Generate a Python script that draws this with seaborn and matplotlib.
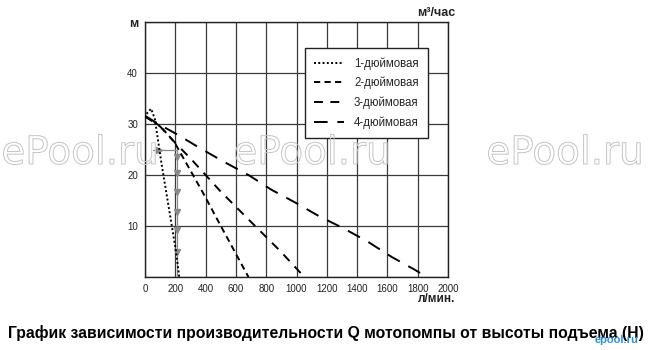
import matplotlib
matplotlib.use("Agg")
import matplotlib.pyplot as plt
import matplotlib.patheffects as pe
import seaborn as sns
import pandas as pd

# ---- data ----
series_names = ["1-дюймовая", "2-дюймовая", "3-дюймовая", "4-дюймовая"]
q1 = [10, 40, 65, 107, 161, 204, 226]
h1 = [32.0, 33.0, 31.0, 22.6, 12.9, 5.2, 0.0]
q2 = [0, 100, 193, 383, 495, 683]
h2 = [31.5, 29.6, 26.5, 16.5, 10.3, 0.0]
q3 = [0, 100, 193, 302, 498, 693, 889, 1052]
h3 = [31.5, 29.5, 26.5, 23.2, 16.8, 11.0, 5.2, 0.0]
q4 = [0, 106, 204, 367, 520, 683, 835, 998, 1150, 1307, 1472, 1630, 1782, 1860]
h4 = [31.6, 29.7, 28.1, 25.2, 22.6, 20.0, 17.1, 14.5, 11.9, 9.6, 6.9, 3.9, 1.4, 0.0]

# grey reading guide (arrow path)
guide_q = [55, 210, 210]
guide_h = [25, 25, 0]
guide_right_q = [95]
guide_right_h = [25]
guide_down_q = [210, 210, 210, 210, 210, 210]
guide_down_h = [23.5, 20.4, 16.7, 12.7, 9.2, 4.9]

x_ticks = [0, 200, 400, 600, 800, 1000, 1200, 1400, 1600, 1800, 2000]
y_ticks = [0, 10, 20, 30, 40, 50]
y_labels = ["", "10", "20", "30", "40", "м"]

title = "График зависимости производительности Q мотопомпы от высоты подъема (H)"

frames = []
for name, q, h in zip(series_names, [q1, q2, q3, q4], [h1, h2, h3, h4]):
    frames.append(pd.DataFrame({"Q": q, "H": h, "Тип": name}))
df = pd.concat(frames, ignore_index=True)

sns.set_theme(style="white")
plt.rcParams["font.family"] = ["Liberation Sans", "DejaVu Sans"]

fig = plt.figure(figsize=(6.49, 3.5), dpi=100)
ax = fig.add_axes([145 / 649, 1 - 277 / 350, 303 / 649, 255 / 350])

dashes = {
    "1-дюймовая": (1.0, 1.2),
    "2-дюймовая": (3.2, 2.2),
    "3-дюймовая": (4.6, 3.8),
    "4-дюймовая": (7.0, 5.0),
}
palette = {n: "black" for n in series_names}

sns.lineplot(data=df, x="Q", y="H", hue="Тип", style="Тип", dashes=dashes,
             palette=palette, sort=False, estimator=None, linewidth=1.4,
             ax=ax, zorder=4)

# guide
ax.plot(guide_q, guide_h, color="#8a8a8a", lw=0.9, zorder=3)
ax.plot(guide_right_q, guide_right_h, ">", color="#8a8a8a", ms=4, zorder=3)
ax.plot(guide_down_q, guide_down_h, "v", color="#8a8a8a", ms=4, zorder=3)

ax.set_xlim(0, 2000)
ax.set_ylim(0, 50)
ax.set_xticks(x_ticks)
ax.set_yticks(y_ticks)
ax.set_xticklabels([str(v) for v in x_ticks])
ax.set_yticklabels(y_labels)
ax.tick_params(axis="both", length=0, labelsize=7, colors="#222222")
ax.tick_params(axis="x", pad=5)
ax.tick_params(axis="y", pad=5)
ylabs = ax.get_yticklabels()
ylabs[-1].set_fontweight("bold")
ylabs[-1].set_fontsize(9)
ax.set_xlabel("")
ax.set_ylabel("")

ax.grid(True, color="#3a3a3a", lw=0.9)
ax.set_axisbelow(True)
for s in ax.spines.values():
    s.set_color("#222222")
    s.set_linewidth(1.0)
    s.set_visible(True)

handles, labels = ax.get_legend_handles_labels()
leg = ax.legend(handles, labels, loc="upper left", bbox_to_anchor=(0.528, 0.898),
                borderaxespad=0, fontsize=8.3, handlelength=2.6, handletextpad=0.85,
                labelspacing=0.62, borderpad=0.8, frameon=True, fancybox=False,
                framealpha=1, edgecolor="#222222")
leg.get_frame().set_linewidth(1.0)
leg.set_zorder(5)

fig.text(436 / 649, 1 - 12.5 / 350, "м³/час", ha="center", va="center",
         fontsize=9, fontweight="bold", color="#222222")
fig.text(437 / 649, 1 - 299 / 350, "л/мин.", ha="center", va="center",
         fontsize=8.5, fontweight="bold", color="#222222")
fig.text(326 / 649, 1 - 333 / 350, title, ha="center", va="center",
         fontsize=11.3, fontweight="bold", color="black")

# watermarks (outlined)
for xc in [80, 312, 565]:
    fig.text(xc / 649, 1 - 153 / 350, "ePool.ru", ha="center", va="center",
             fontsize=28, family=["DejaVu Sans"], color="none", zorder=10,
             path_effects=[pe.Stroke(linewidth=0.7, foreground="#c4c4c4")])
fig.text(617 / 649, 1 - 340 / 350, "epool.ru", ha="center", va="center",
         fontsize=8, fontweight="bold", color="#2d8fd5", zorder=11)

fig.savefig("out.png", dpi=100)
